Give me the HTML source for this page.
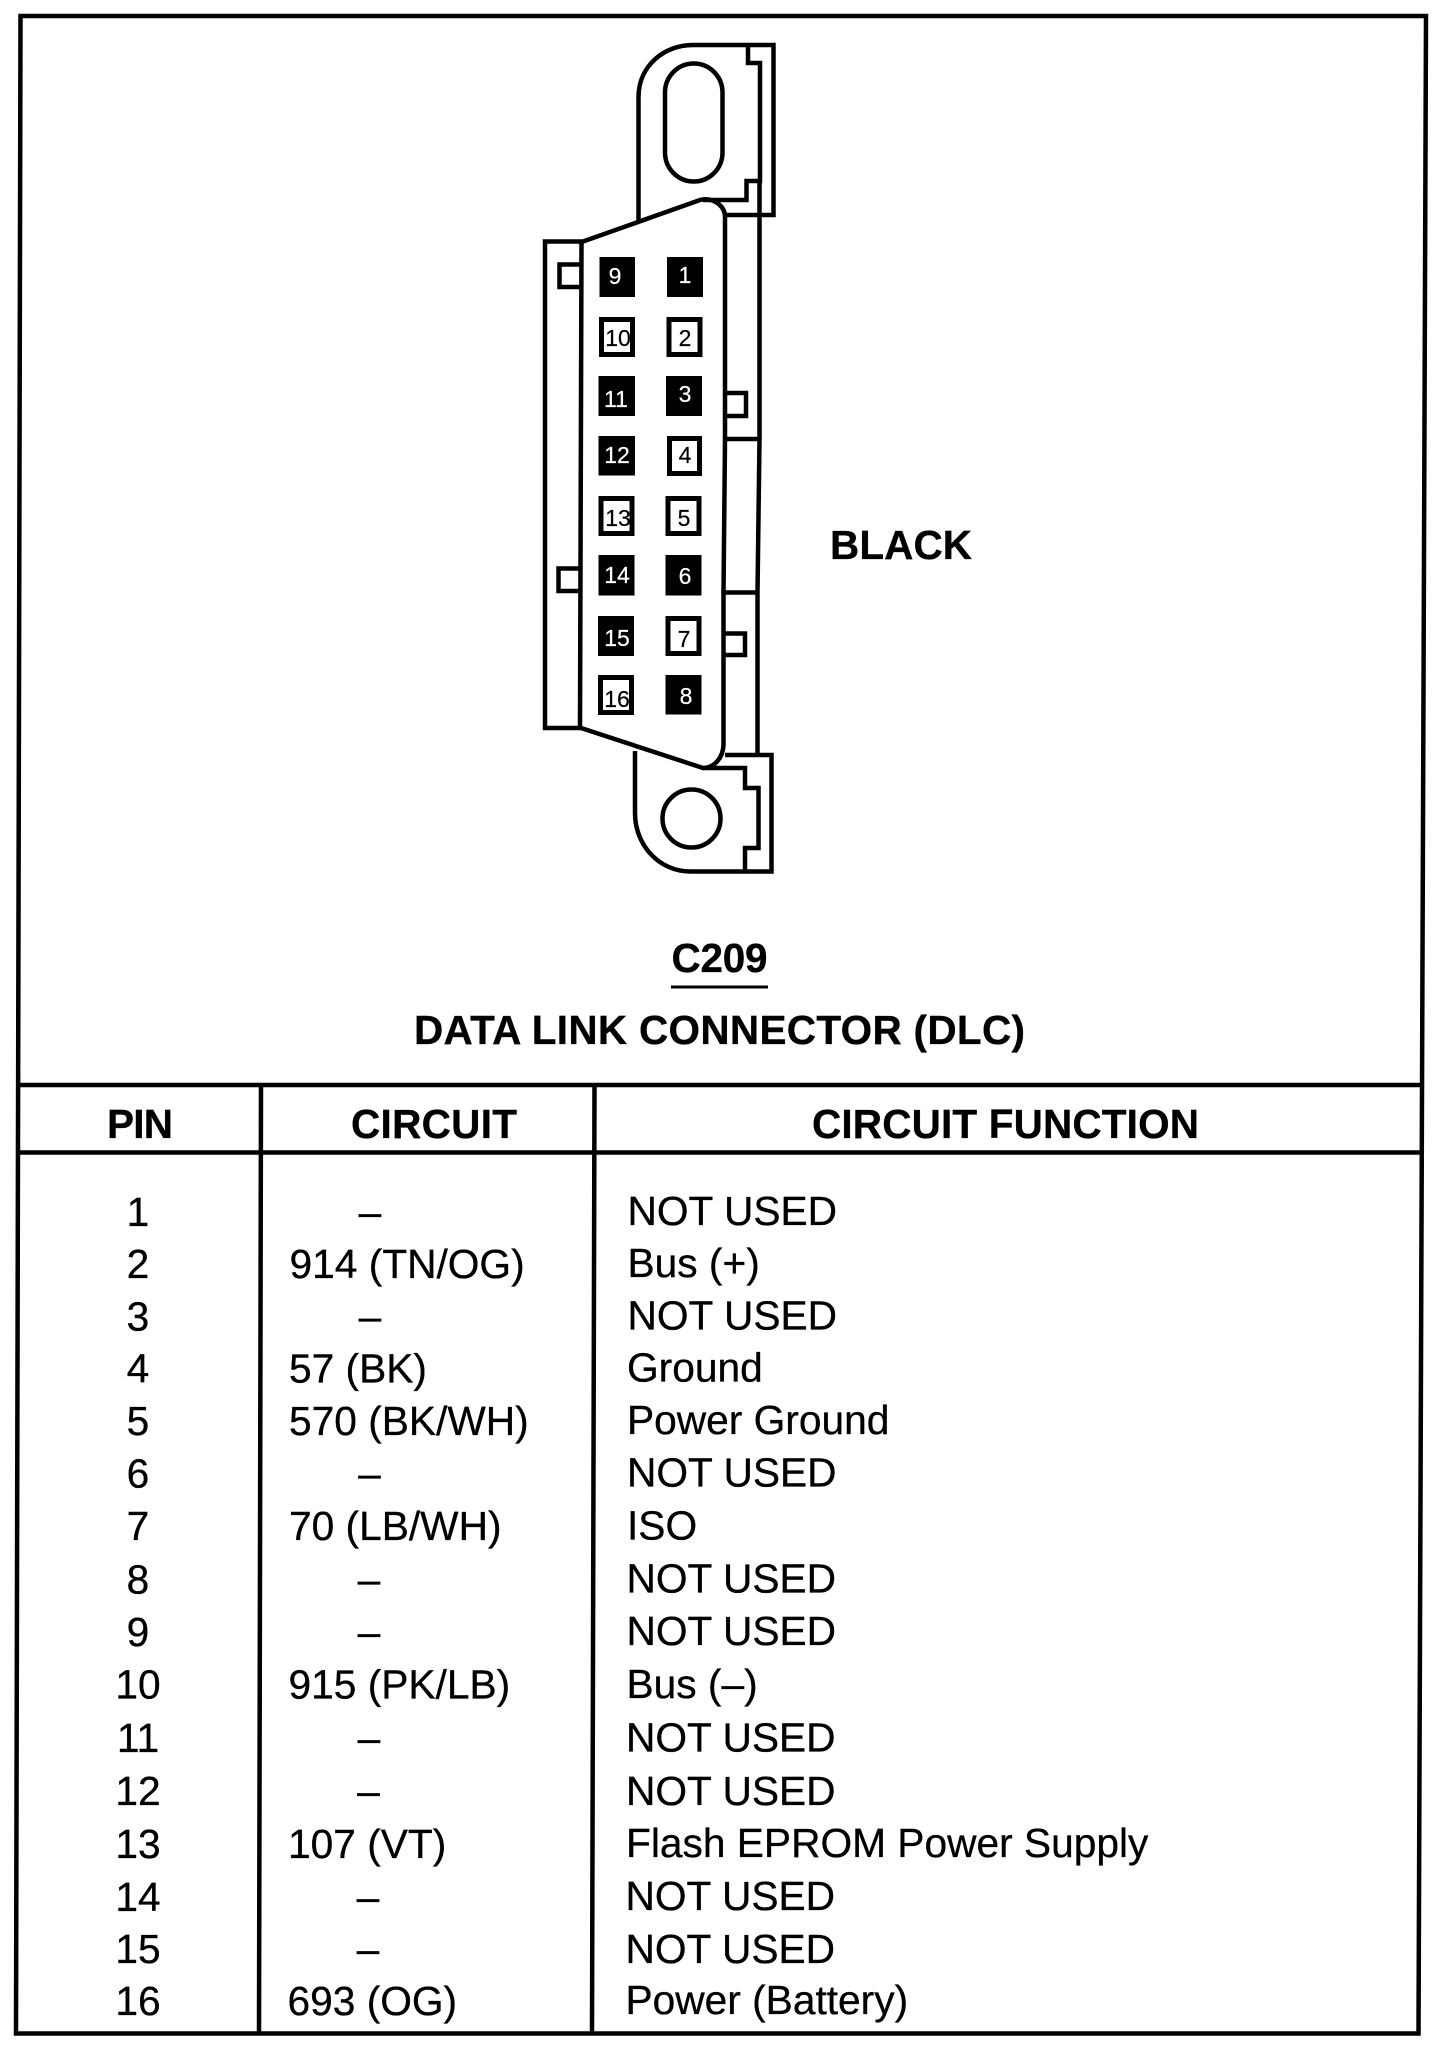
<!DOCTYPE html>
<html><head><meta charset="utf-8"><style>
html,body{margin:0;padding:0;background:#fff}
svg{display:block}
text{font-family:"Liberation Sans",sans-serif;fill:#000}
.b{font-weight:bold;font-size:40.5px;stroke:#000;stroke-width:.3px}
.r{font-size:40.7px;stroke:#000;stroke-width:.3px}
.m{text-anchor:middle}
.n{font-size:23px;text-anchor:middle;stroke:#000;stroke-width:.2px}
.w{fill:#fff;stroke:#fff}
</style></head><body>
<svg width="1437" height="2048" viewBox="0 0 1437 2048" xmlns="http://www.w3.org/2000/svg">
<rect width="1437" height="2048" fill="#fff"/>
<g fill="none" stroke="#000" stroke-width="4.5">
<path d="M20.5 16H1426L1418.5 2033.5L16 2033.5Z"/>
<path d="M18 1085H1423M18 1152.5H1423"/>
<path d="M261 1085L259 2033M594.5 1085L592 2033"/>
<path d="M671 987H768" stroke-width="3"/>
</g>
<g fill="none" stroke="#000" stroke-width="4.5" stroke-linejoin="miter">
<!-- upper tab -->
<path d="M638.5 220V97C638.5 66 664 45 693 45H773.5V215H723"/>
<path d="M748 45V63H760V181H746.5V200H703"/>
<rect x="665" y="63.5" width="57.5" height="118" rx="28.7" ry="29"/>
<!-- main body -->
<path d="M545 241.5H583L700 200C712 197 725 205 725 217V440L723.5 593V745C723 758 714 768 703 768L581 728H545Z"/>
<path d="M581.5 241.5L580 728"/>
<path d="M759.5 181V439L757.5 593V755"/>
<path d="M725 439H759M724 592.5H758"/>
<!-- small tabs -->
<path d="M581 264.5H559.5V287H581"/>
<path d="M726 393H746V416H726"/>
<path d="M580 568.5H558.5V591H580"/>
<path d="M724 633.5H745V655H724"/>
<!-- lower tab -->
<path d="M635 751V813C635 846 660 871.5 690 871.5H771.5V755H725"/>
<path d="M703 768H745V788H758.5V848H745V871.5"/>
<circle cx="691.5" cy="818.5" r="29"/>
</g>
<!-- pins: black -->
<g fill="#000">
<rect x="599.5" y="257" width="35.5" height="40"/>
<rect x="667" y="257" width="36" height="40"/>
<rect x="598.5" y="376" width="36.5" height="40"/>
<rect x="666" y="376" width="36" height="40"/>
<rect x="598.5" y="436" width="36.5" height="39.5"/>
<rect x="598.5" y="555" width="36" height="40.5"/>
<rect x="665.5" y="555" width="36" height="40.5"/>
<rect x="598" y="616" width="36" height="40"/>
<rect x="665.5" y="675" width="36" height="39.5"/>
</g>
<!-- pins: outlined -->
<g fill="#fff" stroke="#000" stroke-width="5">
<rect x="601.5" y="319.5" width="31" height="35"/>
<rect x="669" y="319.5" width="31" height="35"/>
<rect x="669.5" y="438.5" width="30" height="35"/>
<rect x="601" y="498.5" width="31" height="35"/>
<rect x="668" y="498.5" width="31" height="35"/>
<rect x="668" y="618.5" width="31" height="35"/>
<rect x="600.5" y="677.5" width="31" height="35"/>
</g>
<g>
<text class="n w" x="615" y="284">9</text>
<text class="n w" x="685" y="283">1</text>
<text class="n" x="618" y="346">10</text>
<text class="n" x="685" y="346">2</text>
<text class="n w" x="616" y="407">11</text>
<text class="n w" x="685" y="402">3</text>
<text class="n w" x="617" y="463">12</text>
<text class="n" x="685" y="463">4</text>
<text class="n" x="618" y="526">13</text>
<text class="n" x="684" y="526">5</text>
<text class="n w" x="617" y="583">14</text>
<text class="n w" x="685" y="584">6</text>
<text class="n w" x="617" y="646">15</text>
<text class="n" x="684" y="647">7</text>
<text class="n" x="617" y="707">16</text>
<text class="n w" x="686" y="704">8</text>
</g>
<text class="b" x="830" y="559" textLength="142">BLACK</text>
<text class="b" x="671.5" y="972" textLength="96">C209</text>
<text class="b" x="414" y="1044" textLength="611">DATA LINK CONNECTOR (DLC)</text>
<text class="b" x="107" y="1138" textLength="66">PIN</text>
<text class="b" x="351" y="1138" textLength="166">CIRCUIT</text>
<text class="b" x="812" y="1138" textLength="387">CIRCUIT FUNCTION</text>
<g>
<text class="r m" x="138" y="1226">1</text>
<text class="r m" x="138" y="1278">2</text>
<text class="r m" x="138" y="1330.5">3</text>
<text class="r m" x="138" y="1382.7">4</text>
<text class="r m" x="138" y="1435">5</text>
<text class="r m" x="138" y="1487.7">6</text>
<text class="r m" x="138" y="1540">7</text>
<text class="r m" x="138" y="1593.3">8</text>
<text class="r m" x="138" y="1646">9</text>
<text class="r m" x="138" y="1698.7">10</text>
<text class="r m" x="138" y="1752">11</text>
<text class="r m" x="138" y="1805">12</text>
<text class="r m" x="138" y="1858">13</text>
<text class="r m" x="138" y="1911">14</text>
<text class="r m" x="138" y="1963">15</text>
<text class="r m" x="138" y="2015">16</text>
<text class="r m" x="370" y="1226">–</text>
<text class="r" x="289.5" y="1278">914 (TN/OG)</text>
<text class="r m" x="370" y="1330.5">–</text>
<text class="r" x="289" y="1382.7">57 (BK)</text>
<text class="r" x="289" y="1435">570 (BK/WH)</text>
<text class="r m" x="369.5" y="1487.7">–</text>
<text class="r" x="289" y="1540">70 (LB/WH)</text>
<text class="r m" x="369" y="1593.3">–</text>
<text class="r m" x="369" y="1646">–</text>
<text class="r" x="288.5" y="1698.7">915 (PK/LB)</text>
<text class="r m" x="369" y="1752">–</text>
<text class="r m" x="368.5" y="1805">–</text>
<text class="r" x="288" y="1858">107 (VT)</text>
<text class="r m" x="368" y="1911">–</text>
<text class="r m" x="368" y="1963">–</text>
<text class="r" x="287.5" y="2015">693 (OG)</text>
<text class="r" x="627.5" y="1225">NOT USED</text>
<text class="r" x="627.5" y="1277">Bus (+)</text>
<text class="r" x="627.5" y="1329.5">NOT USED</text>
<text class="r" x="627" y="1381.7">Ground</text>
<text class="r" x="627" y="1434">Power Ground</text>
<text class="r" x="627" y="1486.7">NOT USED</text>
<text class="r" x="627" y="1539.3">ISO</text>
<text class="r" x="626.5" y="1592.3">NOT USED</text>
<text class="r" x="626.5" y="1645">NOT USED</text>
<text class="r" x="626.5" y="1698">Bus (–)</text>
<text class="r" x="626" y="1751.7">NOT USED</text>
<text class="r" x="626" y="1805">NOT USED</text>
<text class="r" x="626" y="1857">Flash EPROM Power Supply</text>
<text class="r" x="625.5" y="1910">NOT USED</text>
<text class="r" x="625.5" y="1963">NOT USED</text>
<text class="r" x="625.5" y="2014">Power (Battery)</text>
</g>
</svg>
</body></html>
